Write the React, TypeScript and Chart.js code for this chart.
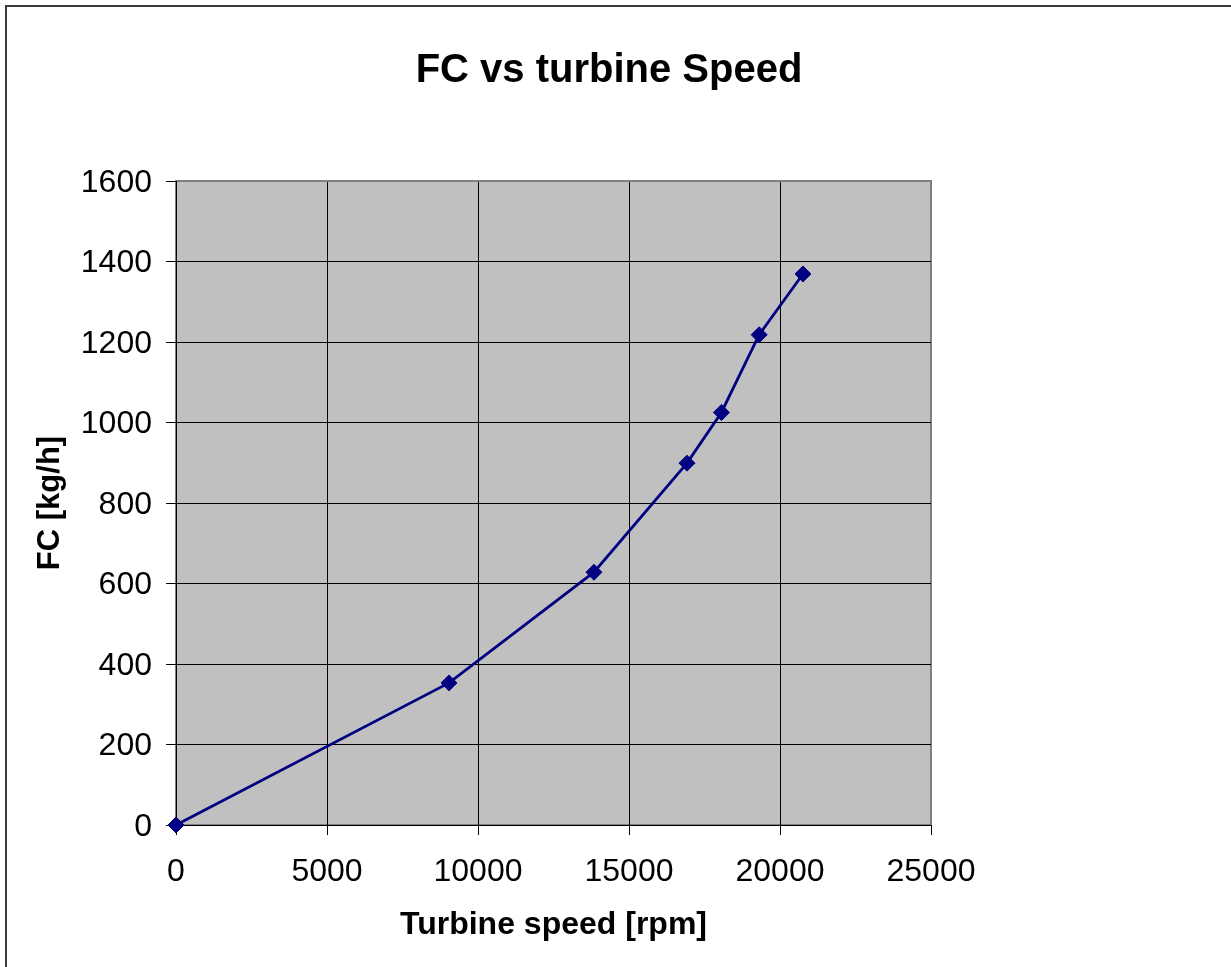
import { useEffect, useRef } from "react";
import { Chart, registerables } from "chart.js";

Chart.register(...registerables);

// Measured fuel consumption against turbine speed
const turbineSpeed = [0, 9040, 13840, 16920, 18060, 19310, 20760];
const fuelConsumption = [0, 353, 628, 899, 1025, 1218, 1369];

// Axis tick values
const speedTicks = [0, 5000, 10000, 15000, 20000, 25000];
const fcTicks = [0, 200, 400, 600, 800, 1000, 1200, 1400, 1600];

const chartTitle = "FC vs turbine Speed";
const xTitle = "Turbine speed [rpm]";
const yTitle = "FC [kg/h]";

const FONT = '"Liberation Sans", Arial, Helvetica, sans-serif';
const NAVY = "#000080";
const WIDTH = 1231;
const HEIGHT = 967;

// Outer frame, grey plot area with its border, and the chart heading
const framePlugin = {
  id: "frame",
  beforeDraw(chart: any) {
    const { ctx, chartArea: a, width, height } = chart;
    ctx.save();
    ctx.fillStyle = "#ffffff";
    ctx.fillRect(0, 0, width, height);
    ctx.strokeStyle = "#3a3a3a";
    ctx.lineWidth = 2;
    ctx.strokeRect(6, 6, width + 40, height + 40);

    ctx.fillStyle = "#c0c0c0";
    ctx.fillRect(a.left, a.top, a.right - a.left, a.bottom - a.top);
    ctx.strokeStyle = "#808080";
    ctx.lineWidth = 2;
    ctx.strokeRect(a.left, a.top, a.right - a.left, a.bottom - a.top);

    ctx.fillStyle = "#000000";
    ctx.font = `bold 40px ${FONT}`;
    ctx.textAlign = "center";
    ctx.textBaseline = "alphabetic";
    ctx.fillText(chartTitle, 609, 82);
    ctx.restore();
  },
};

const plain = (v: any) => String(v);

export default function App() {
  const canvasRef = useRef<HTMLCanvasElement | null>(null);

  useEffect(() => {
    const canvas = canvasRef.current;
    if (!canvas) return;
    const chart = new Chart(canvas, {
      type: "line",
      data: {
        datasets: [
          {
            label: "FC",
            data: turbineSpeed.map((x, i) => ({ x, y: fuelConsumption[i] })),
            borderColor: NAVY,
            backgroundColor: NAVY,
            borderWidth: 2.8,
            pointStyle: "rectRot",
            pointRadius: 8,
            pointBackgroundColor: NAVY,
            pointBorderColor: NAVY,
            pointBorderWidth: 1,
            tension: 0,
            clip: false as any,
          },
        ],
      },
      options: {
        responsive: false,
        maintainAspectRatio: false,
        animation: false,
        events: [],
        layout: { padding: { left: 0, right: 300, top: 181, bottom: 0 } },
        plugins: {
          legend: { display: false },
          title: { display: false },
          tooltip: { enabled: false },
        },
        scales: {
          x: {
            type: "linear",
            min: 0,
            max: 25000,
            afterBuildTicks: (s: any) => {
              s.ticks = speedTicks.map((value) => ({ value }));
            },
            afterFit: (s: any) => {
              s.height = 142;
            },
            ticks: {
              color: "#000",
              font: { family: FONT, size: 32 },
              padding: 18,
              maxRotation: 0,
              autoSkip: false,
              callback: plain,
            },
            grid: {
              color: (c: any) => (c.tick && c.tick.value === 25000 ? "#808080" : "#000"),
              lineWidth: 1,
              tickLength: 10,
              tickColor: "#000",
            },
            border: { color: "#000", width: 1 },
            title: {
              display: true,
              text: xTitle,
              color: "#000",
              font: { family: FONT, size: 32, weight: "bold" },
              padding: { top: 0, bottom: 23 },
            },
          },
          y: {
            type: "linear",
            min: 0,
            max: 1600,
            afterBuildTicks: (s: any) => {
              s.ticks = fcTicks.map((value) => ({ value }));
            },
            afterFit: (s: any) => {
              s.width = 176;
            },
            ticks: {
              color: "#000",
              font: { family: FONT, size: 32 },
              padding: 14,
              labelOffset: 2,
              autoSkip: false,
              callback: plain,
            },
            grid: {
              color: (c: any) => (c.tick && c.tick.value === 1600 ? "#808080" : "#000"),
              lineWidth: 1,
              tickLength: 10,
              tickColor: "#000",
            },
            border: { color: "#000", width: 1 },
            title: {
              display: true,
              text: yTitle,
              color: "#000",
              font: { family: FONT, size: 31, weight: "bold" },
              padding: { top: 32, bottom: 0 },
            },
          },
        },
      },
      plugins: [framePlugin],
    });
    return () => chart.destroy();
  }, []);

  return (
    <div style={{ position: "absolute", left: 0, top: 0, width: WIDTH, height: HEIGHT }}>
      <canvas ref={canvasRef} width={WIDTH} height={HEIGHT} style={{ width: WIDTH, height: HEIGHT, display: "block" }} />
    </div>
  );
}
